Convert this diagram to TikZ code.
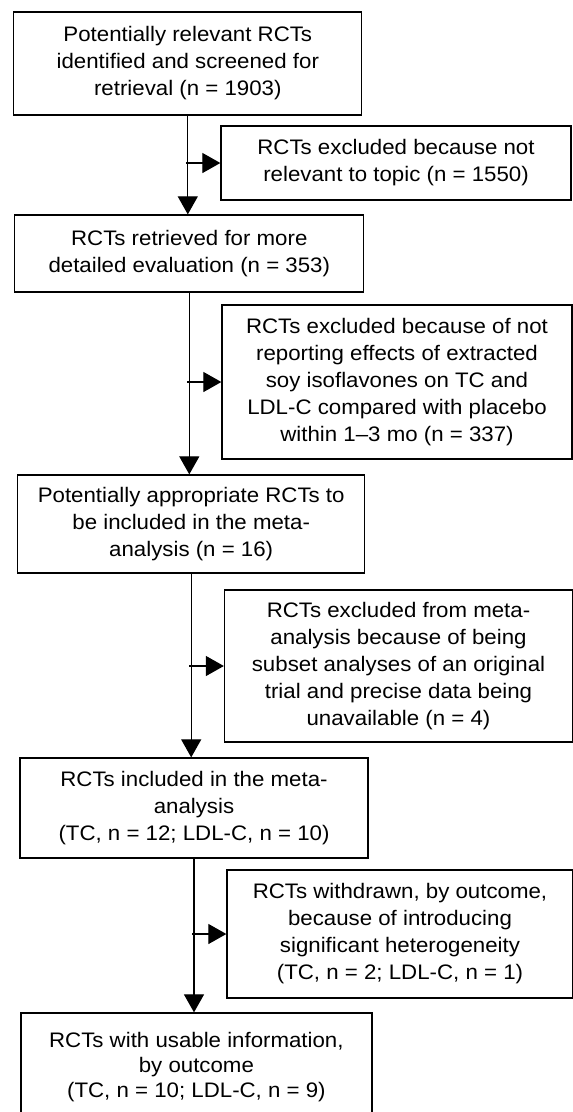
\documentclass[tikz,border=0pt]{standalone}
\usepackage{fontspec}
\setmainfont[FakeStretch=1.06]{Liberation Sans}
\usetikzlibrary{arrows.meta}
\begin{document}
\begin{tikzpicture}[x=1pt,y=-1pt,
  box/.style={draw, line width=1.3pt, align=center, inner sep=0pt,
    font=\fontsize{21}{27}\selectfont},
  flow/.style={line width=1.2pt, -{Triangle[length=18pt,width=20pt]}}]
\useasboundingbox (0,0) rectangle (573,1112);
\clip (0,0) rectangle (573,1112);
\node[box, minimum width=348pt, minimum height=103pt] (b1) at (187.8,63.5)
  {Potentially relevant RCTs\\identified and screened for\\retrieval (n = 1903)};
\node[box, minimum width=350pt, minimum height=74pt] (b2) at (396,163)
  {RCTs excluded because not\\relevant to topic (n = 1550)};
\node[box, minimum width=349pt, minimum height=77pt] (b3) at (189.3,253.5)
  {RCTs retrieved for more\\detailed evaluation (n = 353)};
\node[box, minimum width=350pt, minimum height=154pt] (b4) at (397,382)
  {RCTs excluded because of not\\reporting effects of extracted\\soy isoflavones on TC and\\LDL-C compared with placebo\\within 1–3 mo (n = 337)};
\node[box, minimum width=347pt, minimum height=98pt] (b5) at (191.2,524)
  {Potentially appropriate RCTs to\\be included in the meta-\\analysis (n = 16)};
\node[box, minimum width=348pt, minimum height=152pt] (b6) at (398.5,666)
  {RCTs excluded from meta-\\analysis because of being\\subset analyses of an original\\trial and precise data being\\unavailable (n = 4)};
\node[box, minimum width=348pt, minimum height=100pt] (b7) at (194,808)
  {RCTs included in the meta-\\analysis\\(TC, n = 12; LDL-C, n = 10)};
\node[box, minimum width=346pt, minimum height=128pt] (b8) at (400,934)
  {RCTs withdrawn, by outcome,\\because of introducing\\significant heterogeneity\\(TC, n = 2; LDL-C, n = 1)};
\node[box, minimum width=351pt, minimum height=108pt, font=\fontsize{21}{25}\selectfont] (b9) at (196.4,1067)
  {RCTs with usable information,\\by outcome\\(TC, n = 10; LDL-C, n = 9)};
\draw[flow] (b1.south) -- (b1.south |- b3.north);
\draw[flow] (b3.south) -- (b3.south |- b5.north);
\draw[flow] (b5.south) -- (b5.south |- b7.north);
\draw[flow] (b7.south) -- (b7.south |- b9.north);
\draw[flow, shorten <=-2pt] (b2.west -| b1.south) -- (b2.west);
\draw[flow, shorten <=-2pt] (b4.west -| b3.south) -- (b4.west);
\draw[flow, shorten <=-2pt] (b6.west -| b5.south) -- (b6.west);
\draw[flow, shorten <=-2pt] (b8.west -| b7.south) -- (b8.west);
\end{tikzpicture}
\end{document}
